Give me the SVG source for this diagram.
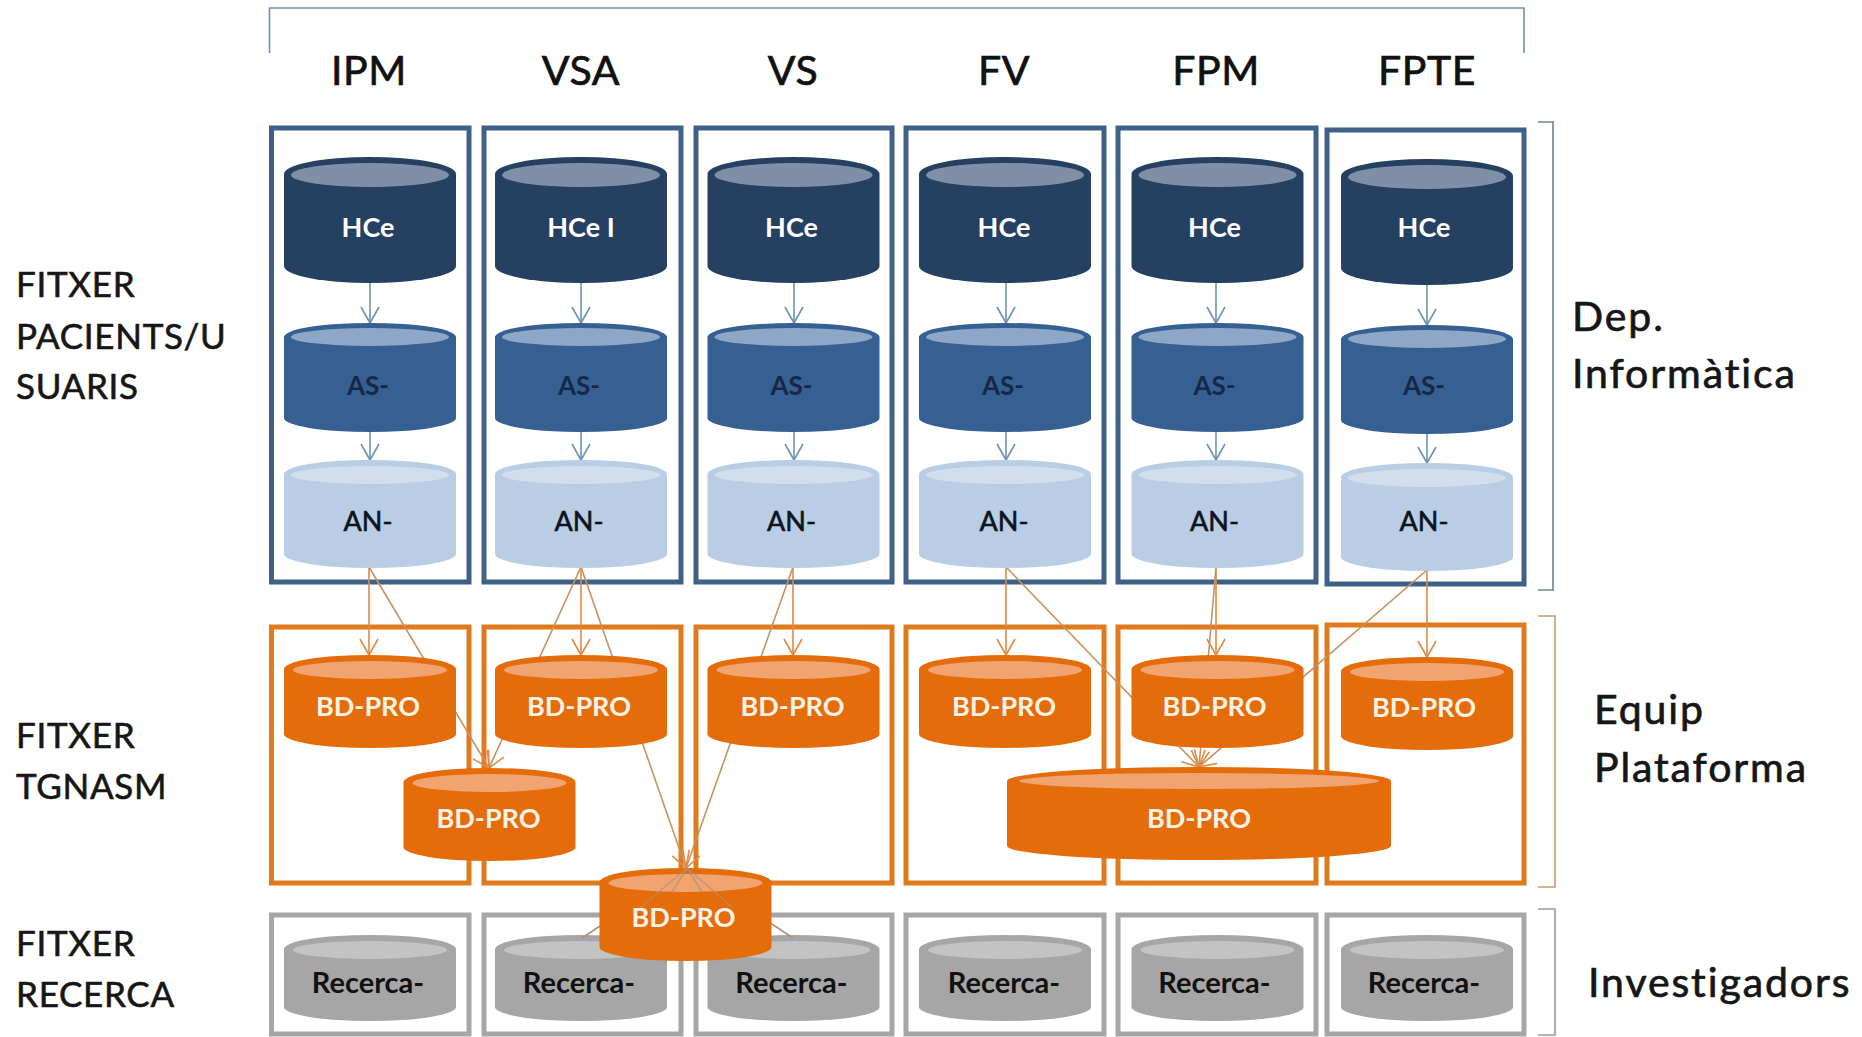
<svg xmlns="http://www.w3.org/2000/svg" width="1862" height="1037" viewBox="0 0 1862 1037">
<style>
text{font-family:Lato,"Liberation Sans",sans-serif;text-anchor:middle}
.h{font-size:41px;fill:#111;stroke:#111;stroke-width:.7px;letter-spacing:.6px}
.l{font-size:35px;fill:#161616;stroke:#161616;stroke-width:.6px;letter-spacing:.7px;text-anchor:start}
.r{font-size:41px;fill:#161616;stroke:#161616;stroke-width:.7px;letter-spacing:1.9px;text-anchor:start}
.w{font-size:27px;font-weight:700;fill:#fff}
.bd{font-size:27px;font-weight:700;fill:#fdf3e6}
.as{font-size:26px;font-weight:700;fill:#14284a}
.an{font-size:27px;fill:#0c1420;stroke:#0c1420;stroke-width:.6px}
.re{font-size:29px;font-weight:700;fill:#111}
.bx{fill:#fff;fill-opacity:.9;stroke-width:5}
.b{stroke:#3f6087}.o{stroke:#e07a1f}.g{stroke:#a6a6a6}
.ln{fill:none;stroke-width:1.6}
.ab{stroke:#6f93b5;marker-end:url(#ma)}
.ao{stroke:#df8a45;marker-end:url(#mo)}
.ad{stroke:#c9915f}
.ag{stroke:#b0917a}
.br{fill:none;stroke-width:1.6}
</style>
<defs>
<marker id="ma" markerUnits="userSpaceOnUse" markerWidth="24" markerHeight="24" refX="21" refY="12" viewBox="0 0 24 24" orient="auto"><path d="M5,3 L21,12 L5,21" fill="none" stroke="#6f93b5" stroke-width="1.6"/></marker>
<marker id="mo" markerUnits="userSpaceOnUse" markerWidth="24" markerHeight="24" refX="21" refY="12" viewBox="0 0 24 24" orient="auto"><path d="M5,3 L21,12 L5,21" fill="none" stroke="#df8a45" stroke-width="1.6"/></marker>
<g id="c-hce"><path d="M-86,17 A86,17 0 0 1 86,17 V109 A86,17 0 0 1 -86,109 Z" fill="#254061"/><ellipse cx="0" cy="18" rx="79" ry="12" fill="#7f8fa8"/></g>
<g id="c-as"><path d="M-86,14 A86,14 0 0 1 86,14 V95 A86,14 0 0 1 -86,95 Z" fill="#376092"/><ellipse cx="0" cy="14" rx="79" ry="9" fill="#8ea7c6"/></g>
<g id="c-an"><path d="M-86,14 A86,14 0 0 1 86,14 V94 A86,14 0 0 1 -86,94 Z" fill="#b9cde5"/><ellipse cx="0" cy="15" rx="79" ry="9" fill="#d2deed"/></g>
<g id="c-bd"><path d="M-86,14 A86,14 0 0 1 86,14 V79 A86,14 0 0 1 -86,79 Z" fill="#e46c0a"/><ellipse cx="0" cy="15" rx="77" ry="9" fill="#f2a470"/></g>
<g id="c-re"><path d="M-86,14 A86,14 0 0 1 86,14 V72 A86,14 0 0 1 -86,72 Z" fill="#a6a6a6"/><ellipse cx="0" cy="15" rx="77" ry="9" fill="#c3c3c3"/></g>
</defs>
<rect width="1862" height="1037" fill="#fff"/>

<g id="brackets">
<path class="br" stroke="#6b93a8" d="M269.500,53 V8 H1524 V53"/>
<path class="br" stroke="#6d8297" d="M1538,122 H1553 V590 H1538"/>
<path class="br" stroke="#c99a6e" d="M1538,616 H1555 V887 H1538"/>
<path class="br" stroke="#9a9a9a" d="M1538,909 H1555 V1035 H1538"/>
</g>

<g id="headers">
<text class="h" x="369" y="85">IPM</text>
<text class="h" x="581" y="85">VSA</text>
<text class="h" x="793" y="85">VS</text>
<text class="h" x="1004" y="85">FV</text>
<text class="h" x="1216" y="85">FPM</text>
<text class="h" x="1427" y="85">FPTE</text>
</g>

<g id="left-labels">
<text class="l" x="16" y="297">FITXER</text>
<text class="l" x="16" y="349">PACIENTS/U</text>
<text class="l" x="16" y="399">SUARIS</text>
<text class="l" x="16" y="748">FITXER</text>
<text class="l" x="16" y="799">TGNASM</text>
<text class="l" x="16" y="956">FITXER</text>
<text class="l" x="16" y="1007">RECERCA</text>
</g>
<g id="right-labels">
<text class="r" x="1572" y="331">Dep.</text>
<text class="r" x="1572" y="388">Informàtica</text>
<text class="r" x="1594" y="724">Equip</text>
<text class="r" x="1594" y="782">Plataforma</text>
<text class="r" x="1588" y="997">Investigadors</text>
</g>

<g id="boxes">
<rect id="box-b1" class="bx b" x="271.500" y="128" width="197.500" height="454"/>
<rect id="box-b2" class="bx b" x="484" y="128" width="197" height="454"/>
<rect id="box-b3" class="bx b" x="696" y="128" width="196" height="454"/>
<rect id="box-b4" class="bx b" x="906" y="128" width="198" height="454"/>
<rect id="box-b5" class="bx b" x="1118" y="128" width="198" height="454"/>
<rect id="box-b6" class="bx b" x="1327" y="130" width="197" height="454"/>
<rect id="box-o1" class="bx o" x="271.500" y="627" width="197.500" height="256"/>
<rect id="box-o2" class="bx o" x="484" y="627" width="197" height="256"/>
<rect id="box-o3" class="bx o" x="696" y="627" width="196" height="256"/>
<rect id="box-o4" class="bx o" x="906" y="627" width="198" height="256"/>
<rect id="box-o5" class="bx o" x="1118" y="627" width="198" height="256"/>
<rect id="box-o6" class="bx o" x="1327" y="625" width="197" height="258"/>
<rect id="box-g1" class="bx g" x="271.500" y="915" width="197.500" height="119"/>
<rect id="box-g2" class="bx g" x="484" y="915" width="197" height="119"/>
<rect id="box-g3" class="bx g" x="696" y="915" width="196" height="119"/>
<rect id="box-g4" class="bx g" x="906" y="915" width="198" height="119"/>
<rect id="box-g5" class="bx g" x="1118" y="915" width="198" height="119"/>
<rect id="box-g6" class="bx g" x="1327" y="915" width="197" height="119"/>
</g>

<g id="connectors">
<path class="ln ab" d="M370,283 V323"/><path class="ln ab" d="M370,432 V460"/>
<path class="ln ab" d="M581,283 V323"/><path class="ln ab" d="M581,432 V460"/>
<path class="ln ab" d="M794,283 V323"/><path class="ln ab" d="M794,432 V460"/>
<path class="ln ab" d="M1006,283 V323"/><path class="ln ab" d="M1006,432 V460"/>
<path class="ln ab" d="M1216,283 V323"/><path class="ln ab" d="M1216,432 V460"/>
<path class="ln ab" d="M1427,285 V325"/><path class="ln ab" d="M1427,434 V463"/>
<path class="ln ao" d="M369,567 V655"/>
<path class="ln ao" d="M581,567 V655"/>
<path class="ln ao" d="M793,567 V655"/>
<path class="ln ao" d="M1006,567 V655"/>
<path class="ln ao" d="M1216,567 V655"/>
<path class="ln ao" d="M1427,570 V657"/>
<path class="ln ad ao" d="M369,567 L489,768"/>
<path class="ln ad ao" d="M581,567 L489,768"/>
<path class="ln ad ao" d="M581,567 L686,868"/>
<path class="ln ad ao" d="M793,567 L686,868"/>
<path class="ln ad ao" d="M1006,567 L1199,767"/>
<path class="ln ad ao" d="M1216,567 L1199,767"/>
<path class="ln ad ao" d="M1427,570 L1199,767"/>
</g>

<g id="n-hce-1" transform="translate(370,157)"><use href="#c-hce"/><text class="w" x="-2" y="80">HCe</text></g>
<g id="n-hce-2" transform="translate(581,157)"><use href="#c-hce"/><text class="w" x="0" y="80">HCe I</text></g>
<g id="n-hce-3" transform="translate(793.500,157)"><use href="#c-hce"/><text class="w" x="-2" y="80">HCe</text></g>
<g id="n-hce-4" transform="translate(1005,157)"><use href="#c-hce"/><text class="w" x="-1" y="80">HCe</text></g>
<g id="n-hce-5" transform="translate(1217.500,157)"><use href="#c-hce"/><text class="w" x="-3" y="80">HCe</text></g>
<g id="n-hce-6" transform="translate(1427,159)"><use href="#c-hce"/><text class="w" x="-3" y="78">HCe</text></g>

<g id="n-as-1" transform="translate(370,323)"><use href="#c-as"/><text class="as" x="-2" y="72">AS-</text></g>
<g id="n-as-2" transform="translate(581,323)"><use href="#c-as"/><text class="as" x="-2" y="72">AS-</text></g>
<g id="n-as-3" transform="translate(793.500,323)"><use href="#c-as"/><text class="as" x="-2" y="72">AS-</text></g>
<g id="n-as-4" transform="translate(1005,323)"><use href="#c-as"/><text class="as" x="-2" y="72">AS-</text></g>
<g id="n-as-5" transform="translate(1217.500,323)"><use href="#c-as"/><text class="as" x="-3" y="72">AS-</text></g>
<g id="n-as-6" transform="translate(1427,325)"><use href="#c-as"/><text class="as" x="-3" y="70">AS-</text></g>

<g id="n-an-1" transform="translate(370,460)"><use href="#c-an"/><text class="an" x="-2" y="71">AN-</text></g>
<g id="n-an-2" transform="translate(581,460)"><use href="#c-an"/><text class="an" x="-2" y="71">AN-</text></g>
<g id="n-an-3" transform="translate(793.500,460)"><use href="#c-an"/><text class="an" x="-2" y="71">AN-</text></g>
<g id="n-an-4" transform="translate(1005,460)"><use href="#c-an"/><text class="an" x="-1" y="71">AN-</text></g>
<g id="n-an-5" transform="translate(1217.500,460)"><use href="#c-an"/><text class="an" x="-3" y="71">AN-</text></g>
<g id="n-an-6" transform="translate(1427,463)"><use href="#c-an"/><text class="an" x="-3" y="68">AN-</text></g>

<g id="n-bd-1" transform="translate(370,655)"><use href="#c-bd"/><text class="bd" x="-2" y="61">BD-PRO</text></g>
<g id="n-bd-2" transform="translate(581,655)"><use href="#c-bd"/><text class="bd" x="-2" y="61">BD-PRO</text></g>
<g id="n-bd-3" transform="translate(793.500,655)"><use href="#c-bd"/><text class="bd" x="-1" y="61">BD-PRO</text></g>
<g id="n-bd-4" transform="translate(1005,655)"><use href="#c-bd"/><text class="bd" x="-1" y="61">BD-PRO</text></g>
<g id="n-bd-5" transform="translate(1217.500,655)"><use href="#c-bd"/><text class="bd" x="-3" y="61">BD-PRO</text></g>
<g id="n-bd-6" transform="translate(1427,657)"><use href="#c-bd"/><text class="bd" x="-3" y="60">BD-PRO</text></g>
<g id="n-bd-mid" transform="translate(489.500,768)"><use href="#c-bd"/><text class="bd" x="-1" y="60">BD-PRO</text></g>
<g id="n-bd-wide" transform="translate(1199,767)"><path d="M-192,14 A192,14 0 0 1 192,14 V79 A192,14 0 0 1 -192,79 Z" fill="#e46c0a"/><ellipse cx="0" cy="14" rx="180" ry="8" fill="#f2a470"/><text class="bd" x="0" y="61">BD-PRO</text></g>

<g id="n-re-1" transform="translate(370,935)"><use href="#c-re"/><text class="re" x="-2" y="58">Recerca-</text></g>
<g id="n-re-2" transform="translate(581,935)"><use href="#c-re"/><text class="re" x="-2" y="58">Recerca-</text></g>
<g id="n-re-3" transform="translate(793.500,935)"><use href="#c-re"/><text class="re" x="-2" y="58">Recerca-</text></g>
<g id="n-re-4" transform="translate(1005,935)"><use href="#c-re"/><text class="re" x="-1" y="58">Recerca-</text></g>
<g id="n-re-5" transform="translate(1217.500,935)"><use href="#c-re"/><text class="re" x="-3" y="58">Recerca-</text></g>
<g id="n-re-6" transform="translate(1427,935)"><use href="#c-re"/><text class="re" x="-3" y="58">Recerca-</text></g>

<g id="connectors-front">
<path class="ln ag" d="M687,868 L582,938"/>
<path class="ln ag" d="M687,868 L793,938"/>
</g>
<g id="n-bd-low" transform="translate(685.500,868)"><use href="#c-bd"/><text class="bd" x="-2" y="59">BD-PRO</text></g>
<g id="connectors-over" opacity=".7">
<path class="ln ag" d="M687,868 L640,908"/>
<path class="ln ag" d="M687,868 L733,908"/>
<path class="ln ag" d="M687,868 L672,892"/>
<path class="ln ag" d="M687,868 L702,892"/>
</g>
</svg>
